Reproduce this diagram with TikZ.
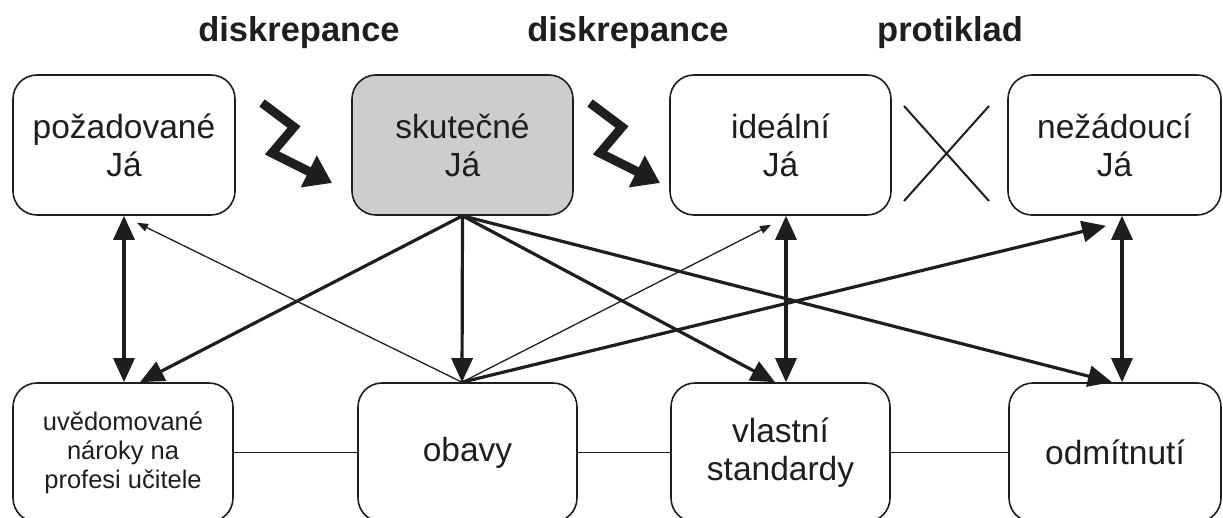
\documentclass[tikz,border=0pt]{standalone}
\usepackage{fontspec}
\setmainfont{Liberation Sans}
\usetikzlibrary{arrows.meta,calc}
\definecolor{ink}{RGB}{30,30,30}
\definecolor{boxgray}{RGB}{205,205,205}
\tikzset{
  selfbox/.style={draw=ink,line width=1.6pt,rounded corners=24pt,inner sep=0pt,align=center,text=ink,
    font=\fontsize{33.5}{38}\selectfont},
  title/.style={anchor=base,text=ink,font=\fontsize{34.5}{40}\selectfont\bfseries},
  thickarr/.style={draw=ink,line width=3.2pt,-{Triangle[length=24pt,width=21pt]}},
  bothway/.style={draw=ink,line width=3.2pt,{Triangle[length=24pt,width=21pt]}-{Triangle[length=24pt,width=21pt]}},
  thinarr/.style={draw=ink,line width=1.3pt,-{Triangle[length=11pt,width=8pt]}},
  zigzag/.style={draw=ink,line width=9pt,miter limit=10,-{Triangle[length=26pt,width=34pt]}},
  plainline/.style={draw=ink,line width=1.6pt},
}
\begin{document}
\begin{tikzpicture}[x=1pt,y=-1pt]
\useasboundingbox (0,0) rectangle (1223,518);
% titles
\node[title] (t1) at (299,42) {diskrepance};
\node[title] (t2) at (628,42) {diskrepance};
\node[title] (t3) at (950,42) {protiklad};
% top boxes
\node[selfbox,minimum width=222pt,minimum height=140pt] (p1) at (124,145) {požadované\\Já};
\node[selfbox,fill=boxgray,minimum width=221pt,minimum height=140pt] (s2) at (462.5,145) {skutečné\\Já};
\node[selfbox,minimum width=221pt,minimum height=140pt] (i3) at (780.5,145) {ideální\\Já};
\node[selfbox,minimum width=213pt,minimum height=140pt] (n4) at (1114.5,145) {nežádoucí\\Já};
% bottom boxes
\node[selfbox,minimum width=220pt,minimum height=139pt,font=\fontsize{25.5}{29}\selectfont] (u1) at (123,452.5) {uvědomované\\nároky na\\profesi učitele};
\node[selfbox,minimum width=219pt,minimum height=139pt] (o2) at (467.5,452.5) {obavy};
\node[selfbox,minimum width=219pt,minimum height=139pt] (v3) at (780.5,452.5) {vlastní\\standardy};
\node[selfbox,minimum width=212pt,minimum height=139pt] (d4) at (1115,452.5) {odmítnutí};
% horizontal links
\draw[plainline] (u1.east) -- (o2.west);
\draw[plainline] (o2.east) -- (v3.west);
\draw[plainline] (v3.east) -- (d4.west);
% vertical double arrows
\draw[bothway] (p1.south) -- (p1.south |- u1.north);
\draw[bothway] ($(i3.south)+(5.5,0)$) -- ($(v3.north)+(5.5,0)$);
\draw[bothway] ($(n4.south)+(7.5,0)$) -- ($(d4.north)+(7,0)$);
% fan from skutecne
\draw[thickarr] (s2.south) -- ($(u1.north)+(17,0)$);
\draw[thickarr] (s2.south) -- ($(o2.north)+(-5.5,0)$);
\draw[thickarr] (s2.south) -- ($(v3.north)+(-5.5,0)$);
\draw[thickarr] (s2.south) -- ($(d4.north)+(-3,0)$);
% fan from obavy
\draw[thinarr] ($(o2.north)+(-5.5,0)$) -- ($(p1.south)+(13,7)$);
\draw[thinarr] ($(o2.north)+(-5.5,0)$) -- ($(i3.south)+(-9.5,9)$);
\draw[thickarr] ($(o2.north)+(-5.5,0)$) -- ($(n4.south)+(-8.5,10)$);
% zigzag arrows
\draw[zigzag] (262,103) -- (294,127) -- (272,153) -- (332,183);
\draw[zigzag] (590,103) -- (622,127) -- (600,153) -- (660,183);
% cross
\draw[ink,line width=2pt] (904,106) -- (989,201);
\draw[ink,line width=2pt] (989,106) -- (904,201);
\end{tikzpicture}
\end{document}
